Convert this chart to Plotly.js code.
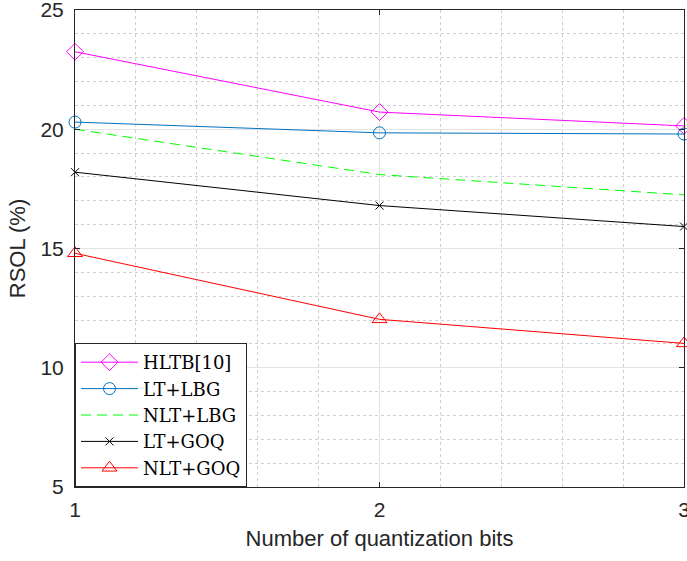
<!DOCTYPE html>
<html>
<head>
<meta charset="utf-8">
<script src="https://cdn.plot.ly/plotly-3.0.1.min.js"></script>
<style>html,body{margin:0;padding:0;background:#fff;}#chart{width:687px;height:561px;}</style>
</head>
<body>
<div id="chart"></div>
<script>
const bits = [1, 2, 3];
const seriesNames = ["HLTB[10]", "LT+LBG", "NLT+LBG", "LT+GOQ", "NLT+GOQ"];
const hltb = [23.25, 20.72, 20.14];
const ltLbg = [20.3, 19.85, 19.8];
const nltLbg = [20.0, 18.1, 17.25];
const ltGoq = [18.2, 16.8, 15.92];
const nltGoq = [14.8, 12.03, 11.02];
const xTickLabels = ["1", "2", "3"];
const yTickVals = [5, 10, 15, 20, 25];

const styles = [
  {color: "#ff00ff", symbol: "diamond-open", size: 13, dash: "solid"},
  {color: "#0072bd", symbol: "circle-open", size: 12, dash: "solid"},
  {color: "#00ff00", symbol: null, size: 0, dash: "10px,6px"},
  {color: "#000000", symbol: "x-thin-open", size: 8, dash: "solid"},
  {color: "#ff0000", symbol: "triangle-up-open", size: 13, dash: "solid"}
];
const values = [hltb, ltLbg, nltLbg, ltGoq, nltGoq];

const traces = values.map((v, i) => {
  const s = styles[i];
  const t = {
    x: bits, y: v, name: seriesNames[i], type: "scatter",
    mode: s.symbol ? "lines+markers" : "lines",
    line: {color: s.color, width: 1, dash: s.dash},
    cliponaxis: false
  };
  if (s.symbol) t.marker = {symbol: s.symbol, size: s.size, color: s.color, line: {color: s.color, width: 1}};
  return t;
});

const axisCommon = {
  showline: true, linecolor: "#262626", linewidth: 1, mirror: "ticks",
  ticks: "inside", ticklen: 5, tickcolor: "#262626",
  showgrid: true, gridcolor: "#e3e3e3", gridwidth: 1, zeroline: false,
  ticklabeloverflow: "allow",
  tickfont: {family: "Liberation Sans, Arial, sans-serif", size: 21, color: "#262626"}
};

const layout = {
  width: 687, height: 561,
  margin: {l: 75, r: 3, t: 10, b: 74},
  paper_bgcolor: "#fff", plot_bgcolor: "#fff",
  showlegend: true,
  xaxis: Object.assign({}, axisCommon, {
    range: [1, 3], tickvals: bits, ticktext: xTickLabels, ticklabelstandoff: 4,
    minor: {dtick: 0.2, showgrid: true, gridcolor: "#d0d0d0", griddash: "dot", ticks: ""},
    title: {text: "Number of quantization bits", standoff: 10,
      font: {family: "Liberation Sans, Arial, sans-serif", size: 22, color: "#262626"}}
  }),
  yaxis: Object.assign({}, axisCommon, {
    range: [5, 25], tickvals: yTickVals, ticklabelstandoff: 6,
    minor: {dtick: 1, showgrid: true, gridcolor: "#d0d0d0", griddash: "dot", ticks: ""},
    title: {text: "RSOL (%)", standoff: 8,
      font: {family: "Liberation Sans, Arial, sans-serif", size: 22, color: "#262626"}}
  }),
  legend: {
    x: 0, y: 0, xanchor: "left", yanchor: "bottom",
    bgcolor: "#ffffff", bordercolor: "#262626", borderwidth: 1,
    font: {family: "DejaVu Serif, Liberation Serif, serif", size: 18, color: "#000"},
    itemwidth: 57, tracegroupgap: 0
  }
};

Plotly.newPlot("chart", traces, layout, {displayModeBar: false, staticPlot: true});
</script>
</body>
</html>
